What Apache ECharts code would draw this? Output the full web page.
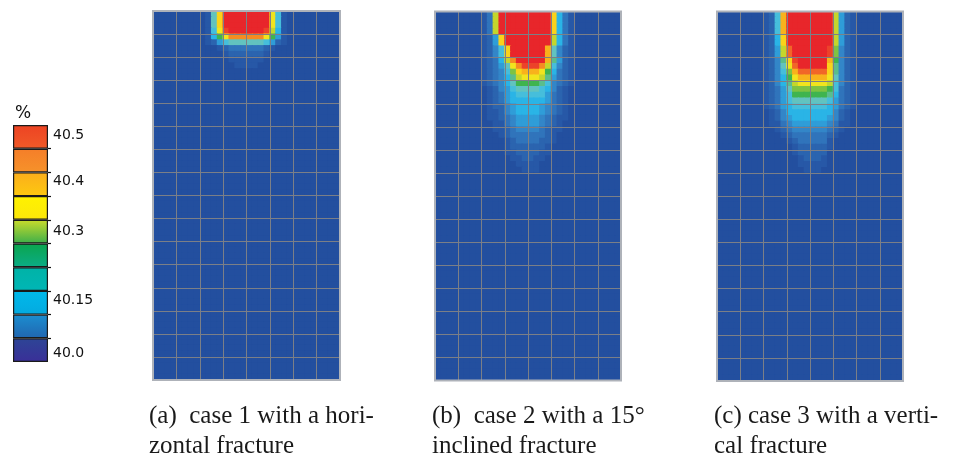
<!DOCTYPE html>
<html>
<head>
<meta charset="utf-8">
<script src="https://cdn.jsdelivr.net/npm/echarts@6/dist/echarts.min.js"></script>
<style>
  html, body { margin: 0; padding: 0; background: #ffffff; }
  #chart { width: 955px; height: 459px; }
</style>
</head>
<body>
<div id="chart"></div>
<script>
// Saturation field on an 8 x 16 mesh, each mesh cell split into 4 x 4 cells.
// One string per row (top to bottom), one character per cell (left to right):
// base-36 digit k stands for a saturation of 40.0 + 0.025 * k (%).
const COLS = 32;
const MESH_COLS = 8;
const MESH_ROWS = 16;
const BG = '11111111111111111111111111111111';

// case 1: horizontal fracture
const fieldA = [
  '11111111129fkkkkkkkke82111111111',
  '11111111129fkkkkkkkke82111111111',
  '11111111129fkkkkkkkke82111111111',
  '11111111128ejkkkkkkjd72111111111',
  '11111111127behhhhhheb62111111111',
  '11111111123689999998632111111111',
  '11111111111234444443211111111111',
  '11111111111123333332111111111111',
  '11111111111112222221111111111111',
  '11111111111111222211111111111111',
  BG, BG, BG, BG, BG, BG, BG, BG, BG, BG,
  BG, BG, BG, BG, BG, BG, BG, BG, BG, BG,
  BG, BG, BG, BG, BG, BG, BG, BG, BG, BG,
  BG, BG, BG, BG, BG, BG, BG, BG, BG, BG,
  BG, BG, BG, BG, BG, BG, BG, BG, BG, BG,
  BG, BG, BG, BG
];

// case 2: fracture inclined by 15 degrees
const fieldB = [
  '1111111124dkkkkkkkkkf74211111111',
  '1111111124dkkkkkkkkkf74211111111',
  '1111111124dkkkkkkkkkf74211111111',
  '1111111124dkkkkkkkkkf74211111111',
  '11111111236fkkkkkkkkd74211111111',
  '11111111236fkkkkkkkkd74211111111',
  '111111112358fkkkkkkg953211111111',
  '111111112358fkkkkkkg953211111111',
  '111111112347dhkkkkkga63211111111',
  '1111111123469ehjjjhd853211111111',
  '1111111123458cfgggeb743211111111',
  '1111111123457adeeeda643211111111',
  '11111111234579bbbba8543211111111',
  '11111111123568999987532111111111',
  '11111111123467888886432111111111',
  '11111111123467777776432111111111',
  '11111111123356777765432111111111',
  '11111111122356777765432111111111',
  '11111111122345666654322111111111',
  '11111111112245666654321111111111',
  '11111111112234555543221111111111',
  '11111111111234444443211111111111',
  '11111111111123444433211111111111',
  '11111111111123333332111111111111',
  '11111111111122333322111111111111',
  '11111111111112233221111111111111',
  '11111111111111222211111111111111',
  '11111111111111122211111111111111',
  BG, BG, BG, BG, BG, BG, BG, BG, BG, BG,
  BG, BG, BG, BG, BG, BG, BG, BG, BG, BG,
  BG, BG, BG, BG, BG, BG, BG, BG, BG, BG,
  BG, BG, BG, BG, BG, BG
];

// case 3: vertical fracture
const fieldC = [
  '11111111238gkkkkkkkkd63211111111',
  '11111111238gkkkkkkkkd63211111111',
  '11111111238gkkkkkkkkd63211111111',
  '11111111238gkkkkkkkkd63211111111',
  '11111111237fkkkkkkkkd63211111111',
  '11111111237fkkkkkkkkd63211111111',
  '11111111236dikkkkkkjc53211111111',
  '11111111236dikkkkkkjc53211111111',
  '11111111235afjkkkkkgb53211111111',
  '111111112359eikkkkkfa53211111111',
  '111111112358cgiiiiifa53211111111',
  '111111112357beggggge953211111111',
  '111111112357adeeeeed853211111111',
  '1111111123469ccccccb843211111111',
  '1111111123468bbbbbba743211111111',
  '11111111234689999998643211111111',
  '11111111234678888887643211111111',
  '11111111123577777777532111111111',
  '11111111123567777776532111111111',
  '11111111122456666665422111111111',
  '11111111112345555554321111111111',
  '11111111111234444443211111111111',
  '11111111111123444442111111111111',
  '11111111111112333332111111111111',
  '11111111111112333331111111111111',
  '11111111111111233321111111111111',
  '11111111111111222221111111111111',
  '11111111111111122211111111111111',
  BG, BG, BG, BG, BG, BG, BG, BG, BG, BG,
  BG, BG, BG, BG, BG, BG, BG, BG, BG, BG,
  BG, BG, BG, BG, BG, BG, BG, BG, BG, BG,
  BG, BG, BG, BG, BG, BG
];

const captions = [
  '(a)  case 1 with a hori-\nzontal fracture',
  '(b)  case 2 with a 15\u00b0\ninclined fracture',
  '(c) case 3 with a verti-\ncal fracture'
];

// legend: band colours from the bottom band (40.0) to the top band (40.5)
const legendBands = [
  ['#2d4596', '#3a2f98'],
  ['#1b8ed0', '#2166b0'],
  ['#00b9ea', '#04aae0'],
  ['#00b3a6', '#00b6b6'],
  ['#0ba54d', '#0bac86'],
  ['#cadb2b', '#3daf4a'],
  ['#fff200', '#fbe70a'],
  ['#fbae1c', '#fdc80f'],
  ['#f57e29', '#f6922a'],
  ['#ed4323', '#f05a28']
];
const legendTicks = ['40.0', '40.15', '40.3', '40.4', '40.5'];

// colour ramp for the field, one stop per character level 0..20
const fieldColors = [
  '#2e3a92', '#234f9f', '#2758a7', '#2b64af', '#3074bb', '#3386c8',
  '#2f9dd8', '#2ab4e6', '#46bedb', '#62c3bf', '#5bbd8c', '#3fb44f',
  '#7ec342', '#c4d62c', '#f1e41e', '#fad21a', '#f8b21c', '#f58c22',
  '#f16628', '#ec432a', '#e8262b'
];

// label spots on the legend, in band units from its bottom edge
const legendTickAt = [0.37, 2.59, 5.5, 7.64, 9.58];

function toCells(rows) {
  const out = [];
  rows.forEach(function (row, j) {
    for (let i = 0; i < COLS; i++) {
      out.push([i, j, 40 + parseInt(row[i], 36) * 0.025]);
    }
  });
  return out;
}

const fields = [fieldA, fieldB, fieldC];
const panelBoxes = [
  { left: 153, top: 11, width: 187, height: 369 },
  { left: 435, top: 11.5, width: 186, height: 369 },
  { left: 717, top: 11.5, width: 186, height: 369.5 }
];
const captionLeft = [149, 432, 714];

const colIdx = Array.from({ length: COLS }, (_, i) => i);
const rowIdx = Array.from({ length: fieldA.length }, (_, j) => j);

const grids = [];
const xAxes = [];
const yAxes = [];
const series = [];
const meshLine = { show: true, lineStyle: { color: '#7b7f87', width: 1 } };

// each cell is drawn one pixel oversize so neighbouring cells never leave a seam
function renderCell(params, api) {
  const p = api.coord([api.value(0), api.value(1)]);
  const s = api.size([1, 1]);
  return {
    type: 'rect',
    shape: { x: p[0] - s[0] / 2 - 0.5, y: p[1] - s[1] / 2 - 0.5, width: s[0] + 1, height: s[1] + 1 },
    style: { fill: api.visual('color') }
  };
}

panelBoxes.forEach(function (box, p) {
  grids.push(Object.assign({
    show: true, z: 10, backgroundColor: 'transparent',
    borderColor: '#aeb2b9', borderWidth: 2
  }, box));
  xAxes.push({ type: 'category', gridIndex: p, data: colIdx, show: false });
  xAxes.push({
    type: 'value', gridIndex: p, min: 0, max: MESH_COLS, interval: 1, position: 'top', z: 8,
    axisLine: { show: false }, axisTick: { show: false }, axisLabel: { show: false },
    splitLine: meshLine
  });
  yAxes.push({ type: 'category', gridIndex: p, data: rowIdx, inverse: true, show: false });
  yAxes.push({
    type: 'value', gridIndex: p, min: 0, max: MESH_ROWS, interval: 1, position: 'right', z: 8,
    axisLine: { show: false }, axisTick: { show: false }, axisLabel: { show: false },
    splitLine: meshLine
  });
  series.push({
    type: 'custom', xAxisIndex: 2 * p, yAxisIndex: 2 * p, clip: true,
    renderItem: renderCell, encode: { x: 0, y: 1 },
    data: toCells(fields[p]), silent: true, progressive: 0
  });
});

// legend bar
grids.push({ left: 13, top: 125, width: 35, height: 237 });
xAxes.push({ type: 'category', gridIndex: 3, data: [''], show: false });
yAxes.push({
  type: 'value', gridIndex: 3, min: 0, max: legendBands.length, position: 'right',
  axisLine: { show: false },
  splitLine: { show: false },
  axisTick: {
    show: true, inside: false, length: 3,
    customValues: [1, 2, 3, 4, 5, 6, 7, 8, 9],
    lineStyle: { color: '#111', width: 1.2 }
  },
  axisLabel: {
    customValues: legendTickAt, margin: 5, color: '#111',
    fontFamily: 'DejaVu Sans', fontSize: 14,
    formatter: function (v) {
      const k = legendTickAt.indexOf(v);
      return k >= 0 ? legendTicks[k] : '';
    }
  }
});
legendBands.forEach(function (c) {
  series.push({
    type: 'bar', xAxisIndex: 6, yAxisIndex: 6, stack: 'legend', barWidth: '100%',
    data: [1], silent: true,
    itemStyle: {
      borderColor: '#1a1a1a', borderWidth: 1.2,
      color: { type: 'linear', x: 0, y: 0, x2: 0, y2: 1,
        colorStops: [{ offset: 0, color: c[0] }, { offset: 1, color: c[1] }] }
    }
  });
});

const titles = [{
  text: '%', left: 15, top: 105, padding: 0,
  textStyle: { fontFamily: 'DejaVu Sans', fontSize: 17, fontWeight: 'normal', color: '#111' }
}];
captions.forEach(function (t, p) {
  titles.push({
    text: t, left: captionLeft[p], top: 401, padding: 0,
    textStyle: { fontFamily: 'Liberation Serif', fontSize: 25, lineHeight: 30,
      fontWeight: 'normal', color: '#1a1a1a' }
  });
});

const chart = echarts.init(document.getElementById('chart'), null, { renderer: 'canvas' });
chart.setOption({
  animation: false,
  backgroundColor: '#ffffff',
  title: titles,
  grid: grids,
  xAxis: xAxes,
  yAxis: yAxes,
  visualMap: {
    show: false, type: 'continuous', seriesIndex: [0, 1, 2], dimension: 2,
    min: 40, max: 40.5, inRange: { color: fieldColors }
  },
  series: series
});
</script>
</body>
</html>
